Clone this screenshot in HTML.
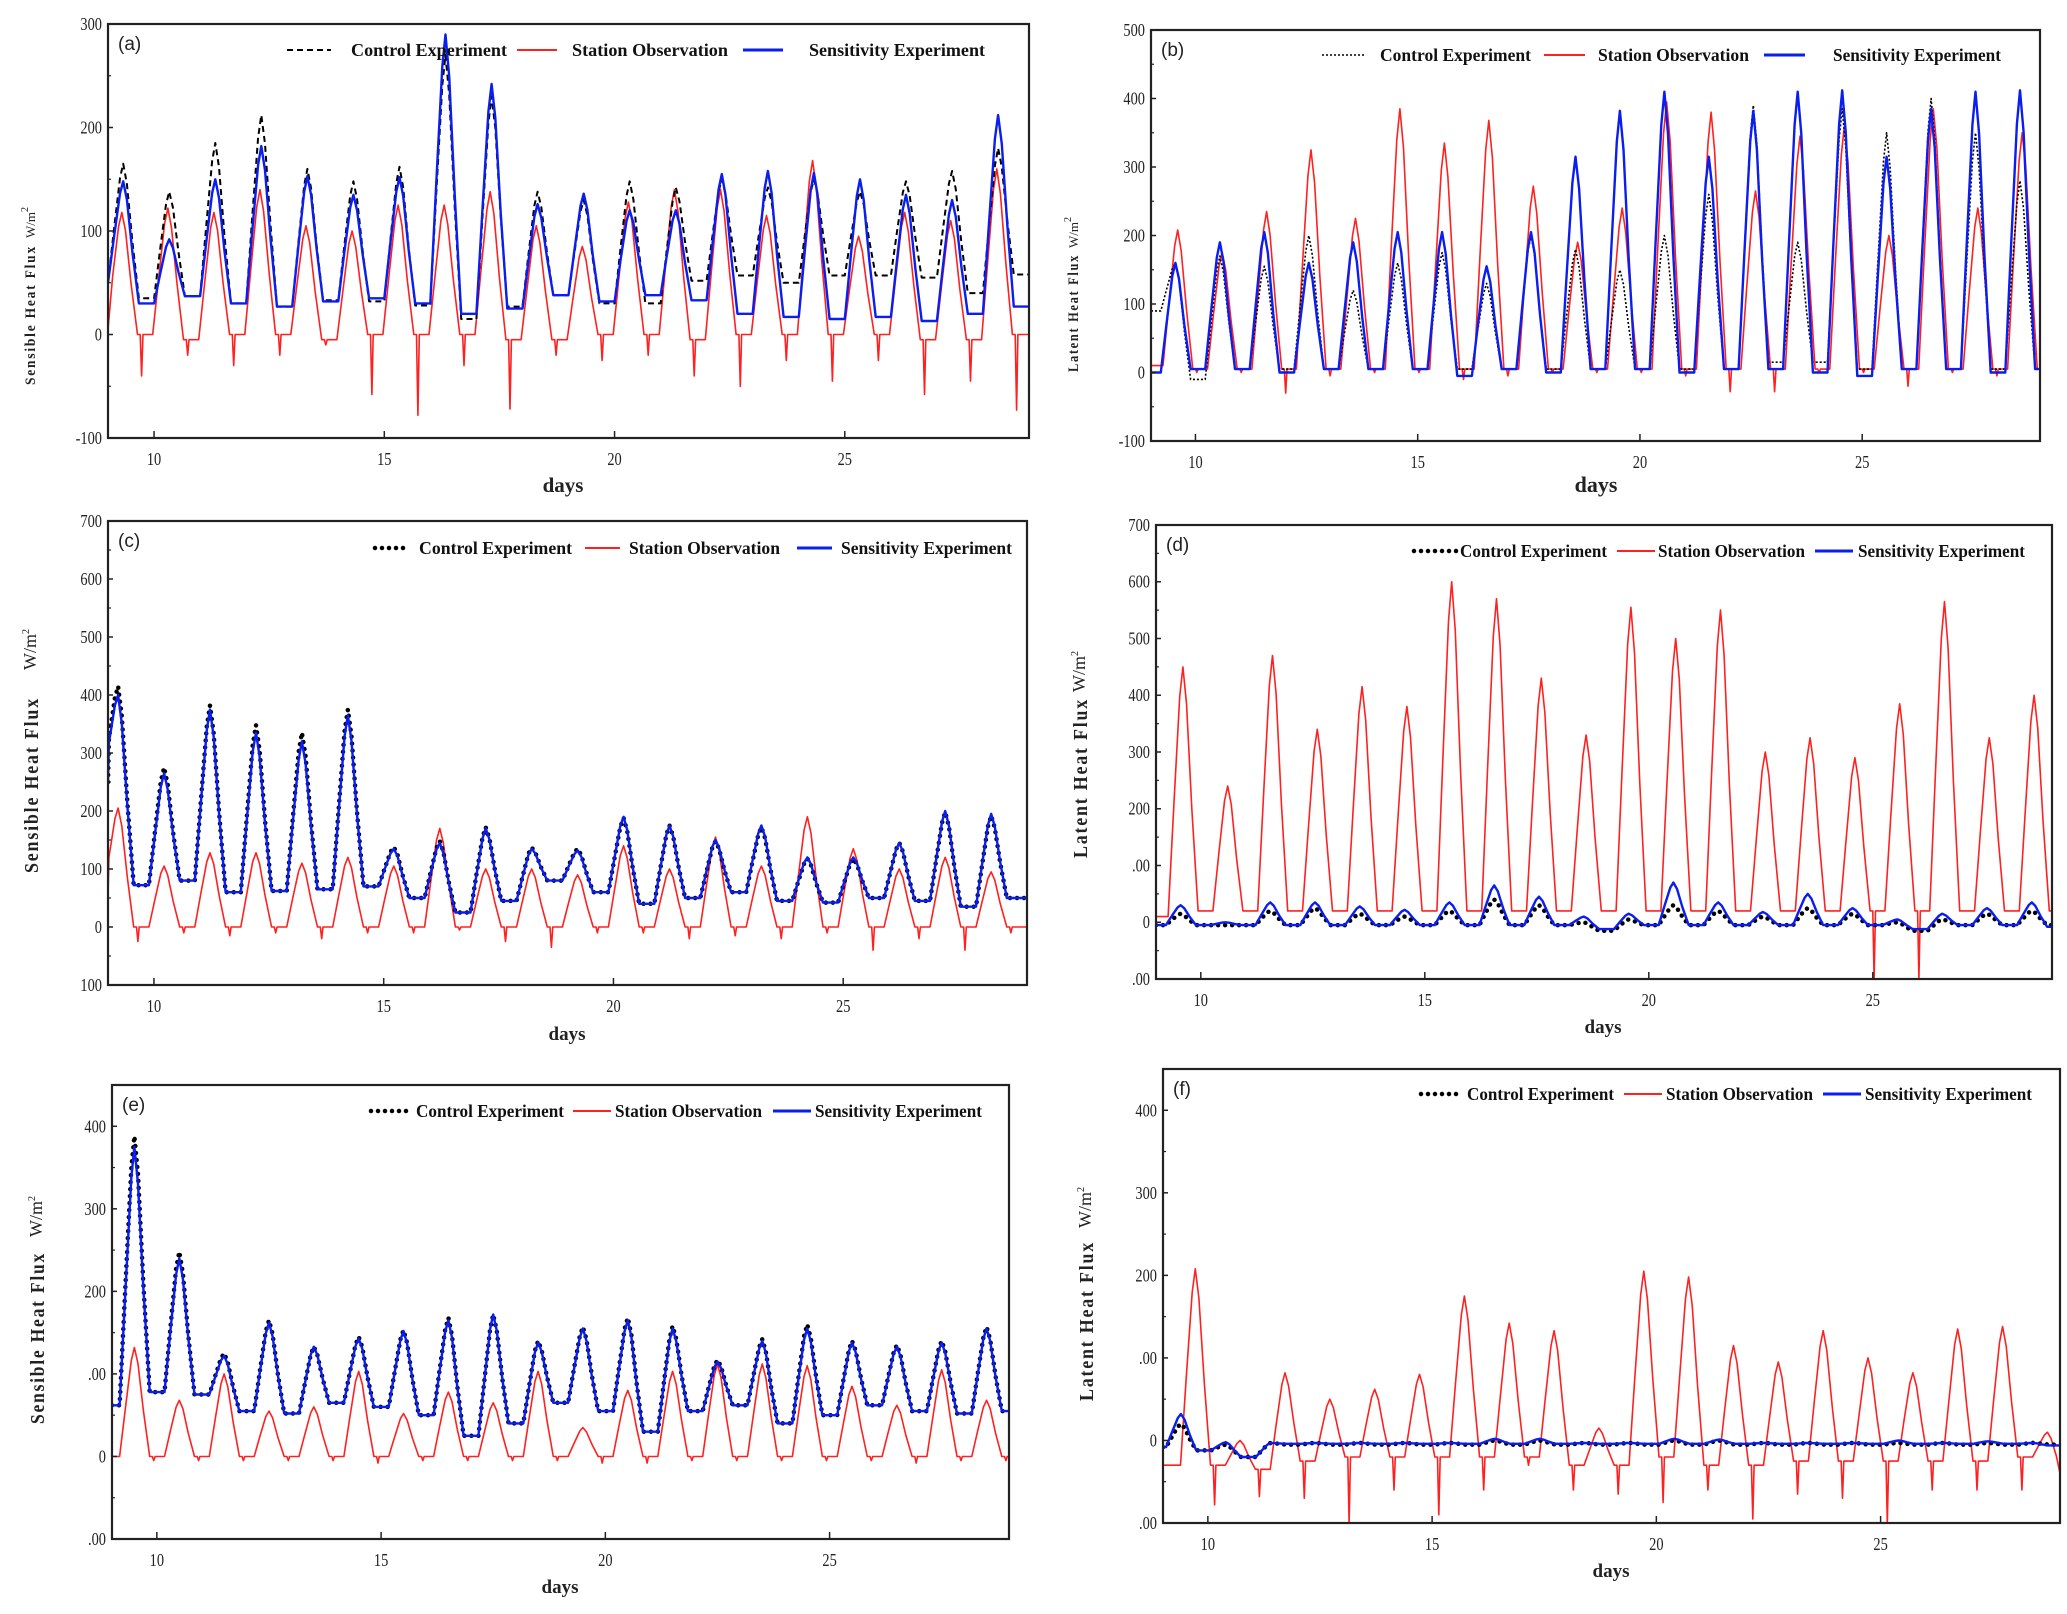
<!DOCTYPE html>
<html><head><meta charset="utf-8"><style>
html,body{margin:0;padding:0;background:#fff;}
svg{display:block;}
text{font-family:"Liberation Serif",serif;}
</style></head><body>
<svg id="fig" width="2067" height="1614" viewBox="0 0 2067 1614" xmlns="http://www.w3.org/2000/svg"></svg>
<script>
// ---------- shared categories ----------
const days = [9,10,11,12,13,14,15,16,17,18,19,20,21,22,23,24,25,26,27,28];
// ---------- panel (a) Sensible heat flux ----------
const aCtrlPeak = [165,138,185,212,160,148,162,270,230,138,130,148,142,150,142,150,138,148,158,180];
const aCtrlBase = [35,37,30,27,33,32,28,15,27,38,30,30,52,57,50,57,57,55,40,58];
const aSensPeak = [148,92,150,182,153,135,152,290,242,126,136,120,120,155,158,156,150,135,130,212];
const aSensBase = [30,37,30,27,32,35,30,20,25,38,32,38,33,20,17,15,17,13,20,27];
const aObsPeak = [118,122,118,140,105,100,125,125,138,105,85,128,140,140,115,168,95,118,110,160];
const aObsBase = [0,-5,0,0,-5,0,0,0,-5,-5,0,0,-5,0,0,0,0,-5,-5,0];
const aObsDip = [-40,-20,-30,-20,-10,-58,-78,-30,-72,-20,-25,-20,-40,-50,-25,-45,-25,-58,-45,-73];
const aStart = [50,5,50];
const aYTicks = [-100,0,100,200,300];
const aYLabels = ["-100","0","100","200","300"];
// ---------- panel (b) Latent heat flux ----------
const bCtrlPeak = [160,170,155,200,120,160,175,130,200,180,150,200,260,390,190,385,350,400,350,280];
const bCtrlBase = [-10,5,5,5,5,5,5,5,5,5,5,5,5,15,15,5,5,5,5,5];
const bSensPeak = [160,190,205,160,190,205,205,155,205,315,382,410,315,382,410,412,315,385,410,412];
const bSensBase = [5,5,0,5,5,5,-5,5,0,5,5,0,5,5,0,-5,5,5,0,5];
const bObsPeak = [208,175,235,325,225,385,335,368,272,190,240,395,380,265,345,360,200,385,240,350];
const bObsBase = [5,5,5,5,5,5,5,5,5,5,5,5,5,5,5,5,5,5,5,5];
const bObsDip = [0,0,-30,-5,0,0,-10,-5,0,0,0,-5,-28,-28,0,0,-20,0,-5,0];
const bStart = [90,10,0];
const bYTicks = [-100,0,100,200,300,400,500];
const bYLabels = ["-100","0","100","200","300","400","500"];
// ---------- panel (c) Sensible heat flux ----------
const cCtrlPeak = [415,275,382,348,335,375,138,148,172,137,135,188,175,148,172,118,118,145,198,192];
const cCtrlBase = [72,80,60,62,65,70,50,25,45,80,60,40,50,60,45,42,50,45,35,50];
const cSensPeak = [400,265,375,335,320,365,135,145,170,135,132,190,175,150,175,120,120,145,200,195];
const cSensBase = [72,80,60,62,65,70,50,25,45,80,60,40,50,60,45,42,50,45,35,50];
const cObsPeak = [205,105,128,128,110,120,105,170,100,100,90,140,100,155,105,190,135,100,120,95];
const cObsBase = [0,0,0,0,0,0,0,0,0,0,0,0,0,0,0,0,0,0,0,0];
const cObsDip = [-25,-10,-15,-10,-20,-10,-10,-5,-25,-35,-10,-10,-20,-15,-20,-10,-40,-20,-40,-10];
const cStart = [250,50,250];
const cYTicks = [-100,0,100,200,300,400,500,600,700];
const cYLabels = ["100","0","100","200","300","400","500","600","700"];
// ---------- panel (d) Latent heat flux ----------
const dCtrlPeak = [15,-5,20,25,15,10,20,40,30,0,5,30,20,10,25,15,0,5,15,20];
const dCtrlBase = [-5,-5,-5,-5,-5,-5,-5,-5,-5,-15,-5,-5,-5,-5,-5,-5,-15,-5,-5,-5];
const dSensPeak = [30,0,35,35,28,22,35,65,45,10,15,70,35,18,50,25,5,15,25,35];
const dSensBase = [-5,-5,-5,-5,-5,-5,-5,-5,-5,-12,-5,-5,-5,-5,-5,-5,-12,-5,-5,-8];
const dObsPeak = [450,240,470,340,415,380,600,570,430,330,555,500,550,300,325,290,385,565,325,400];
const dObsBase = [20,20,20,20,20,20,20,20,20,20,20,20,20,20,20,20,20,20,20,20];
const dObsDip = [20,20,20,20,20,20,20,20,20,20,20,20,20,20,20,-100,-100,20,20,20];
const dStart = [-5,10,-5];
const dYTicks = [-100,0,100,200,300,400,500,600,700];
const dYLabels = [".00","0",".00","200","300","400","500","600","700"];
// ---------- panel (e) Sensible heat flux ----------
const eCtrlPeak = [388,248,125,165,133,145,153,168,172,140,157,168,158,117,142,160,140,135,140,157];
const eCtrlBase = [78,75,55,52,65,60,50,25,40,65,55,30,55,62,40,50,62,55,52,55];
const eSensPeak = [375,240,122,162,133,143,152,165,172,138,155,165,155,115,140,155,138,133,138,155];
const eSensBase = [78,75,55,52,65,60,50,25,40,65,55,30,55,62,40,50,62,55,52,55];
const eObsPeak = [132,68,100,55,60,103,52,78,65,103,35,80,103,112,112,110,85,62,105,68];
const eObsBase = [0,0,0,0,0,0,0,0,0,0,0,0,0,0,0,0,0,0,0,0];
const eObsDip = [-5,-5,-5,-5,-5,-8,-5,-5,-5,-5,-8,-8,-5,-5,-5,-5,-5,-8,-5,-5];
const eStart = [62,0,62];
const eYTicks = [-100,0,100,200,300,400];
const eYLabels = [".00","0",".00","200","300","400"];
// ---------- panel (f) Latent heat flux ----------
const fCtrlPeak = [20,-5,-3,-3,-3,-3,-3,0,0,-3,-3,0,0,-3,-3,-3,-3,-3,-3,-3];
const fCtrlBase = [-12,-20,-5,-5,-5,-5,-5,-5,-5,-5,-5,-5,-5,-5,-5,-5,-5,-5,-5,-5];
const fSensPeak = [32,-2,-3,-3,-3,-3,-3,2,2,-3,-3,2,1,-3,-3,-3,0,-3,-1,-3];
const fSensBase = [-12,-20,-4,-4,-4,-4,-4,-4,-4,-4,-4,-4,-4,-4,-4,-4,-4,-4,-4,-6];
const fObsPeak = [208,0,82,50,62,80,175,142,133,15,205,198,115,95,133,100,82,135,138,10];
const fObsBase = [-30,-35,-25,-20,-20,-20,-20,-20,-30,-30,-20,-30,-30,-25,-25,-25,-25,-25,-20,-40];
const fObsDip = [-78,-68,-70,-100,-60,-90,-60,-30,-60,-65,-75,-60,-95,-65,-70,-100,-60,-60,-60,-95];
const fStart = [-8,-30,-8];
const fYTicks = [-100,0,100,200,300,400];
const fYLabels = [".00","0",".00","200","300","400"];
const xTicks = [10,15,20,25];

const NS = "http://www.w3.org/2000/svg";
const svg = document.getElementById("fig");
function mk(tag, attrs, parent){
  const e = document.createElementNS(NS, tag);
  for (const k in attrs) e.setAttribute(k, attrs[k]);
  (parent||svg).appendChild(e);
  return e;
}
function buildSeries(peaks, bases, dips, phase, start){
  const pts = [[9, start]];
  for (let i=0;i<days.length;i++){
    const d = days[i], p = phase, pk = peaks[i], b = bases[i];
    const bp = i ? bases[i-1] : start;
    const cand = [[d+p-0.33,bp],[d+p-0.2,bp+0.45*(pk-bp)],[d+p-0.07,bp+0.88*(pk-bp)],[d+p,pk],
                  [d+p+0.08,b+0.85*(pk-b)],[d+p+0.2,b+0.42*(pk-b)],[d+p+0.34,b]];
    if (dips){ cand.push([d+p+0.4,b],[d+p+0.43,dips[i]],[d+p+0.46,b]); }
    for (const c of cand){ if (c[0]>pts[pts.length-1][0] && c[0]<29) pts.push(c); }
  }
  pts.push([29, bases[bases.length-1]]);
  return pts;
}
let clipId = 0;
function panel(cfg){
  const g = mk("g", {});
  
  
  const {L,R,T,B,ymin,ymax} = cfg;
  const xs = v => L + (v-9)/20*(R-L);
  const ys = v => B - (v-ymin)/(ymax-ymin)*(B-T);
  const cid = "clip"+(clipId++);
  const cp = mk("clipPath", {id:cid}, g);
  mk("rect", {x:L, y:T, width:R-L, height:B-T}, cp);
  const series = [
    {name:"station-observation-line", pts:buildSeries(cfg.obs[0],cfg.obs[1],cfg.obs[2],cfg.obsPhase,cfg.start[1]), stroke:"#ff2020", w:1.6, dash:null, cap:"butt"},
    {name:"control-experiment-line", pts:buildSeries(cfg.ctrl[0],cfg.ctrl[1],null,cfg.phase,cfg.start[0]), stroke:"#000", w:cfg.ctrlW, dash:cfg.ctrlDash, cap:cfg.ctrlCap},
    {name:"sensitivity-experiment-line", pts:buildSeries(cfg.sens[0],cfg.sens[1],null,cfg.phase,cfg.start[2]), stroke:"#0a1ef0", w:2.4, dash:null, cap:"butt"}
  ];
  for (const s of series){
    const d = s.pts.map((p,i)=>(i?"L":"M")+xs(p[0]).toFixed(1)+","+ys(p[1]).toFixed(1)).join(" ");
    const path = mk("path", {d:d, fill:"none", stroke:s.stroke, "stroke-width":s.w, "stroke-linecap":s.cap, "stroke-linejoin":"round", "clip-path":"url(#"+cid+")"}, g);
    if (s.dash) path.setAttribute("stroke-dasharray", s.dash);
    
    
  }
  const fr = mk("rect", {x:L, y:T, width:R-L, height:B-T, fill:"none", stroke:"#222", "stroke-width":2.2}, g);
  
  
  cfg.yTicks.forEach((v,i)=>{
    const y = ys(v);
    mk("line", {x1:L, x2:L+5, y1:y, y2:y, stroke:"#222", "stroke-width":1.5}, g);
    if (i<cfg.yTicks.length-1){
      const ym = ys(v + (cfg.yTicks[1]-cfg.yTicks[0])/2);
      mk("line", {x1:L, x2:L+3, y1:ym, y2:ym, stroke:"#222", "stroke-width":1.2}, g);
    }
    const t = mk("text", {x:L-6, y:y+6, "text-anchor":"end", "font-size":18, fill:"#222", transform:"translate("+(L-6)+",0) scale(0.8,1) translate("+(-(L-6))+",0)"}, g);
    t.textContent = cfg.yLabels[i];
    
    
  });
  xTicks.forEach(v=>{
    const x = xs(v);
    mk("line", {x1:x, x2:x, y1:B, y2:B-7, stroke:"#222", "stroke-width":1.5}, g);
    const t = mk("text", {x:x, y:B+27, "text-anchor":"middle", "font-size":18, fill:"#222", transform:"translate("+x+",0) scale(0.8,1) translate("+(-x)+",0)"}, g);
    t.textContent = v;
    
    
  });
  const tag = mk("text", {x:L+10, y:T+26, "font-size":19, fill:"#222", style:"font-family:'Liberation Sans',sans-serif"}, g);
  tag.textContent = "("+cfg.id+")";
  
  
  const xt = mk("text", {x:cfg.daysX, y:cfg.daysY, "text-anchor":"middle", "font-size":cfg.dayFs, "font-weight":"bold", fill:"#222"}, g);
  xt.textContent = "days";
  
  
  const yt = mk("text", {x:0, y:0, "font-size":cfg.yFs, "font-weight":"bold", fill:"#222", "letter-spacing":2, transform:"translate("+cfg.yl[0]+","+cfg.yl[1]+") rotate(-90)", textLength:cfg.yl[2], lengthAdjust:"spacingAndGlyphs"}, g);
  yt.textContent = cfg.yTitle;
  
  
  const un = mk("text", {x:0, y:0, "font-size":cfg.yFs-2, fill:"#222", transform:"translate("+cfg.un[0]+","+cfg.un[1]+") rotate(-90)"}, g);
  un.innerHTML = 'W/m<tspan dy="-7" font-size="10">2</tspan>';
  
  
  const lg = mk("g", {}, g);
  
  
  const Ly = cfg.leg.y;
  const samples = [
    {x:cfg.leg.s[0], stroke:"#000", w:cfg.ctrlW, dash:cfg.ctrlDash, cap:cfg.ctrlCap, label:"Control Experiment", n:"legend-entry-control"},
    {x:cfg.leg.s[1], stroke:"#ff2020", w:2, dash:null, cap:"butt", label:"Station Observation", n:"legend-entry-observation"},
    {x:cfg.leg.s[2], stroke:"#0a1ef0", w:3, dash:null, cap:"butt", label:"Sensitivity Experiment", n:"legend-entry-sensitivity"}
  ];
  samples.forEach((s,i)=>{
    const eg = mk("g", {}, lg);
    
    
    const ln = mk("line", {x1:s.x[0], x2:s.x[1], y1:Ly, y2:Ly, stroke:s.stroke, "stroke-width":s.w, "stroke-linecap":s.cap}, eg);
    if (s.dash) ln.setAttribute("stroke-dasharray", s.dash);
    const t = mk("text", {x:cfg.leg.t[i][0], y:Ly+6, "font-size":18, "font-weight":"bold", fill:"#111", textLength:cfg.leg.t[i][1]-cfg.leg.t[i][0], lengthAdjust:"spacingAndGlyphs"}, eg);
    t.textContent = s.label;
  });
}
const dotDash = "0,7";
panel({id:"a", L:108,R:1029,T:24,B:438, ymin:-100,ymax:300, yTicks:aYTicks, yLabels:aYLabels,
  ctrl:[aCtrlPeak,aCtrlBase], sens:[aSensPeak,aSensBase], obs:[aObsPeak,aObsBase,aObsDip], start:aStart,
  phase:0.33, obsPhase:0.3, ctrlW:2, ctrlDash:"6,4", ctrlCap:"butt",
  daysX:563, daysY:492, dayFs:21, yTitle:"Sensible Heat Flux", yFs:15, yl:[35,385,140], un:[35,238],
  leg:{y:50, s:[[287,331],[517,557],[743,783]], t:[[351,507],[572,728],[809,985]]}});
panel({id:"b", L:1151,R:2040,T:30,B:441, ymin:-100,ymax:500, yTicks:bYTicks, yLabels:bYLabels,
  ctrl:[bCtrlPeak,bCtrlBase], sens:[bSensPeak,bSensBase], obs:[bObsPeak,bObsBase,bObsDip], start:bStart,
  phase:0.55, obsPhase:0.6, ctrlW:1.6, ctrlDash:"2,2", ctrlCap:"butt",
  daysX:1596, daysY:492, dayFs:22, yTitle:"Latent Heat Flux", yFs:15, yl:[1078,372,118], un:[1078,248],
  leg:{y:55, s:[[1322,1366],[1544,1585],[1764,1805]], t:[[1380,1531],[1598,1749],[1833,2001]]}});
panel({id:"c", L:108,R:1027,T:521,B:985, ymin:-100,ymax:700, yTicks:cYTicks, yLabels:cYLabels,
  ctrl:[cCtrlPeak,cCtrlBase], sens:[cSensPeak,cSensBase], obs:[cObsPeak,cObsBase,cObsDip], start:cStart,
  phase:0.22, obsPhase:0.22, ctrlW:4.5, ctrlDash:dotDash, ctrlCap:"round",
  daysX:567, daysY:1040, dayFs:19, yTitle:"Sensible Heat Flux", yFs:20, yl:[38,873,176], un:[36,670],
  leg:{y:548, s:[[375,410],[585,620],[797,832]], t:[[419,572],[629,780],[841,1012]]}});
panel({id:"d", L:1156,R:2052,T:525,B:979, ymin:-100,ymax:700, yTicks:dYTicks, yLabels:dYLabels,
  ctrl:[dCtrlPeak,dCtrlBase], sens:[dSensPeak,dSensBase], obs:[dObsPeak,dObsBase,dObsDip], start:dStart,
  phase:0.55, obsPhase:0.6, ctrlW:4.5, ctrlDash:dotDash, ctrlCap:"round",
  daysX:1603, daysY:1033, dayFs:19, yTitle:"Latent Heat Flux", yFs:20, yl:[1087,858,160], un:[1085,692],
  leg:{y:551, s:[[1414,1457],[1617,1655],[1815,1853]], t:[[1460,1607],[1658,1805],[1858,2025]]}});
panel({id:"e", L:112,R:1009,T:1085,B:1539, ymin:-100,ymax:450, yTicks:eYTicks, yLabels:eYLabels,
  ctrl:[eCtrlPeak,eCtrlBase], sens:[eSensPeak,eSensBase], obs:[eObsPeak,eObsBase,eObsDip], start:eStart,
  phase:0.5, obsPhase:0.5, ctrlW:4.5, ctrlDash:dotDash, ctrlCap:"round",
  daysX:560, daysY:1593, dayFs:19, yTitle:"Sensible Heat Flux", yFs:20, yl:[44,1424,172], un:[42,1237],
  leg:{y:1111, s:[[371,413],[573,611],[773,811]], t:[[416,564],[615,762],[815,982]]}});
panel({id:"f", L:1163,R:2060,T:1069,B:1523, ymin:-100,ymax:450, yTicks:fYTicks, yLabels:fYLabels,
  ctrl:[fCtrlPeak,fCtrlBase], sens:[fSensPeak,fSensBase], obs:[fObsPeak,fObsBase,fObsDip], start:fStart,
  phase:0.4, obsPhase:0.72, ctrlW:4.5, ctrlDash:dotDash, ctrlCap:"round",
  daysX:1611, daysY:1577, dayFs:19, yTitle:"Latent Heat Flux", yFs:20, yl:[1093,1401,160], un:[1091,1228],
  leg:{y:1094, s:[[1421,1463],[1624,1662],[1823,1861]], t:[[1467,1614],[1666,1813],[1865,2032]]}});
</script>
</body></html>
